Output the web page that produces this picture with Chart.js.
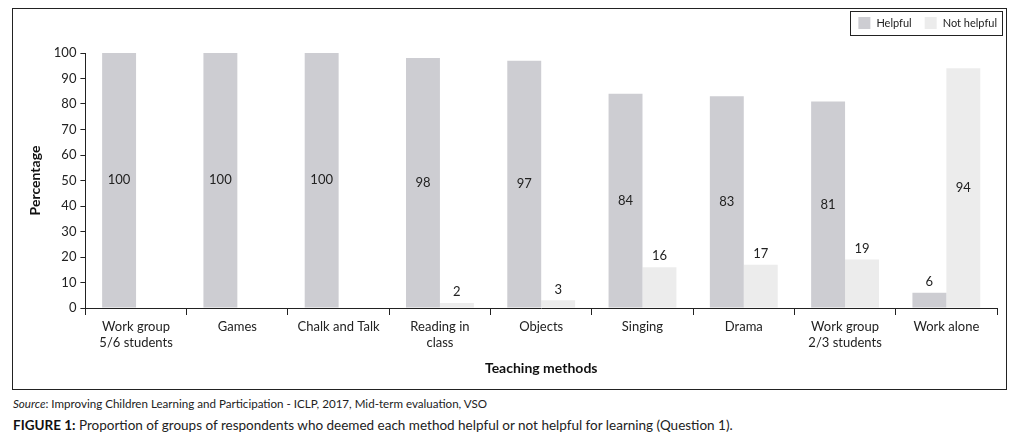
<!DOCTYPE html>
<html>
<head>
<meta charset="utf-8">
<script src="https://cdn.jsdelivr.net/npm/chart.js@4.4.0/dist/chart.umd.min.js"></script>
<style>
  body { margin: 0; background: #fff; font-family: Lato, "Open Sans", sans-serif; }
  #frame { position: absolute; left: 12px; top: 8px; width: 993px; height: 380px; border: 1px solid #222; }
  #wrap { position: absolute; left: 0; top: 0; width: 993px; height: 380px; }
  #source { position: absolute; left: 13px; top: 397px; font-size: 11.6px; color: #222; }
  #caption { position: absolute; left: 13px; top: 417px; font-size: 13.5px; color: #222; }
  #caption b { color: #111; }
</style>
</head>
<body>
<div id="frame"><div id="wrap"><canvas id="methodsChart"></canvas></div></div>
<div id="source"><i>Source</i>: Improving Children Learning and Participation - ICLP, 2017, Mid-term evaluation, VSO</div>
<div id="caption"><b>FIGURE 1:</b> Proportion of groups of respondents who deemed each method helpful or not helpful for learning (Question 1).</div>
<script>
const methods = [["Work group", "5/6 students"], "Games", "Chalk and Talk", ["Reading in", "class"], "Objects", "Singing", "Drama", ["Work group", "2/3 students"], "Work alone"];
const helpful = [100, 100, 100, 98, 97, 84, 83, 81, 6];
const notHelpful = [null, null, null, 2, 3, 16, 17, 19, 94];
const yTicks = [0, 10, 20, 30, 40, 50, 60, 70, 80, 90, 100];

const FONT = "Lato, 'Open Sans', sans-serif";

// value labels: middle of the bar when tall, above it when short
const valueLabels = {
    id: 'valueLabels',
    afterDatasetsDraw(chart) {
        let ctx = chart.ctx;
        ctx.save();
        ctx.font = "13px " + FONT;
        ctx.fillStyle = "#222";
        ctx.textAlign = "center";
        ctx.textBaseline = "middle";
        chart.data.datasets.forEach(function (ds, i) {
            chart.getDatasetMeta(i).data.forEach(function (bar, j) {
                let v = ds.data[j];
                if (v === null) return;
                let y = v >= 50 ? (bar.y + bar.base) / 2 : bar.y - 11;
                ctx.fillText(String(v), bar.x, y);
            });
        });
        ctx.restore();
    }
};

// boxed legend in the top right corner
const boxLegend = {
    id: 'boxLegend',
    afterDraw(chart) {
        let ctx = chart.ctx;
        let sets = chart.data.datasets;
        ctx.save();
        ctx.font = "11px " + FONT;
        ctx.textBaseline = "middle";
        let right = chart.chartArea.right + 5;
        let top = 2, h = 24, cy = top + h / 2;
        let x = right - 5;
        let items = [];
        for (let i = sets.length - 1; i >= 0; i--) {
            let w = ctx.measureText(sets[i].label).width;
            x -= w;
            let tx = x;
            x -= 6 + 12;
            items.push({ bx: x, tx: tx, ds: sets[i] });
            x -= 13;
        }
        let left = x + 13 - 8;
        ctx.strokeStyle = "#222";
        ctx.lineWidth = 1;
        ctx.strokeRect(Math.round(left) + 0.5, top + 0.5, Math.round(right - left), h);
        items.forEach(function (it) {
            ctx.fillStyle = it.ds.backgroundColor;
            ctx.fillRect(it.bx, cy - 6, 12, 12);
            ctx.fillStyle = "#222";
            ctx.fillText(it.ds.label, it.tx, cy + 0.5);
        });
        ctx.restore();
    }
};

let ctx = document.getElementById('methodsChart').getContext('2d');
let chart = new Chart(ctx, {
    type: 'bar',
    data: {
        labels: methods,
        datasets: [{
            label: 'Helpful',
            data: helpful,
            backgroundColor: '#cdcdd2'
        }, {
            label: 'Not helpful',
            data: notHelpful,
            backgroundColor: '#ececec'
        }]
    },
    options: {
        responsive: true,
        maintainAspectRatio: false,
        animation: false,
        datasets: {
            bar: { categoryPercentage: 0.67, barPercentage: 1.0 }
        },
        layout: { padding: { left: 10, right: 9, top: 44, bottom: 8 } },
        plugins: {
            legend: { display: false },
            tooltip: { enabled: false }
        },
        scales: {
            x: {
                grid: { display: true, drawOnChartArea: false, drawTicks: true, tickLength: 7, color: '#222', offset: true },
                border: { display: true, color: '#222', width: 1 },
                ticks: { color: '#222', font: { family: FONT, size: 13 }, maxRotation: 0, autoSkip: false, padding: 4 },
                title: { display: true, text: 'Teaching methods', color: '#111', font: { family: FONT, size: 14, weight: 'bold' }, padding: { top: 6 } }
            },
            y: {
                min: 0,
                max: 100,
                afterBuildTicks(scale) { scale.ticks = yTicks.map(v => ({ value: v })); },
                grid: { display: true, drawOnChartArea: false, drawTicks: true, tickLength: 5, color: '#222' },
                border: { display: true, color: '#222', width: 1 },
                ticks: { color: '#222', font: { family: FONT, size: 13 }, padding: 4 },
                title: { display: true, text: 'Percentage', color: '#111', font: { family: FONT, size: 14, weight: 'bold' }, padding: { bottom: 6 } }
            }
        }
    },
    plugins: [valueLabels, boxLegend]
});
</script>
</body>
</html>
